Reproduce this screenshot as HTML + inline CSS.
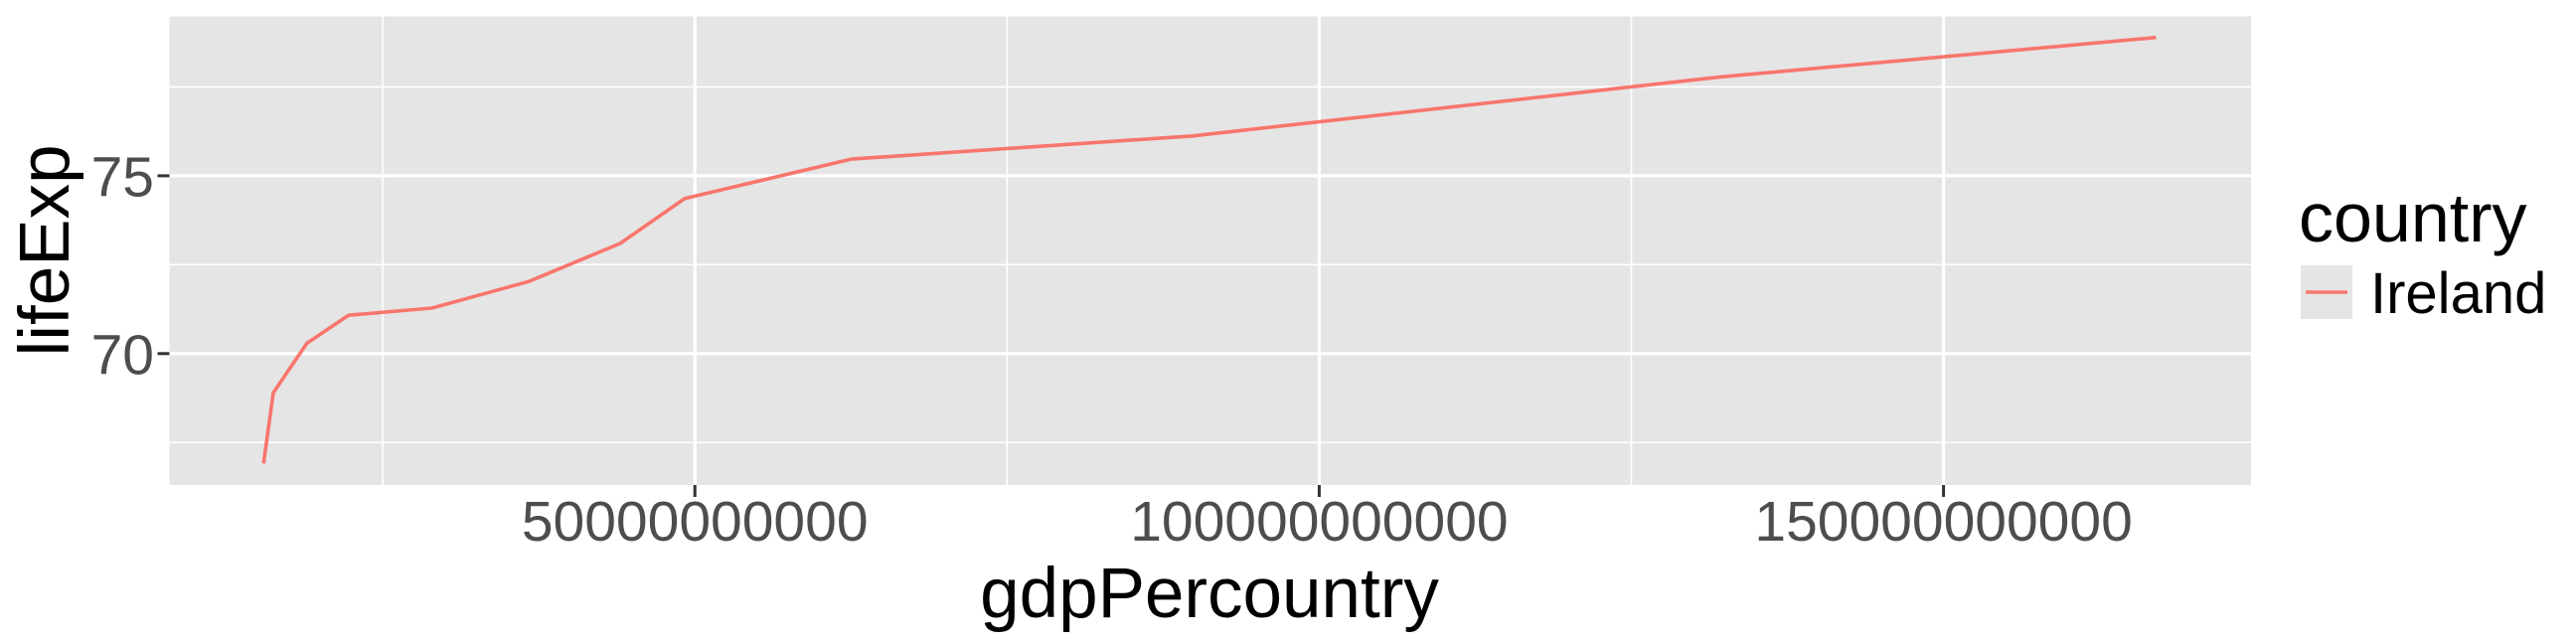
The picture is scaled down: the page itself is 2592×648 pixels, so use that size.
<!DOCTYPE html>
<html><head><meta charset="utf-8"><style>
html,body{margin:0;padding:0;background:#fff;}
svg{display:block;font-family:"Liberation Sans",Arial,sans-serif;}
</style></head><body>
<svg id="chart" width="2592" height="648" viewBox="0 0 2592 648" xmlns="http://www.w3.org/2000/svg">
<rect x="170.5" y="16.5" width="2094.5" height="471.5" fill="#e5e5e5"/>
<g id="grid"></g>
<g id="series"></g>
<g id="axes"></g>
<text x="1217" y="621" font-size="71" text-anchor="middle" fill="#000">gdpPercountry</text>
<text transform="translate(69,252) rotate(-90)" font-size="71" text-anchor="middle" fill="#000">lifeExp</text>
<g>
<text x="2313" y="243" font-size="70" fill="#000">country</text>
<rect x="2315" y="267" width="52" height="54" fill="#e5e5e5"/>
<line x1="2320" y1="294" x2="2362" y2="294" stroke="#F8766D" stroke-width="3.5"/>
<text x="2385" y="315" font-size="58" fill="#000">Ireland</text>
</g>
</svg>
<script>
const gdpValues = [1.546e10, 1.624e10, 1.893e10, 2.226e10, 2.894e10, 3.671e10, 4.402e10, 4.918e10, 6.252e10, 8.985e10, 1.3213e11, 1.6702e11];
const lifeExpValues = [66.91, 68.90, 70.29, 71.08, 71.28, 72.03, 73.10, 74.36, 75.47, 76.12, 77.78, 78.89];
const xMajorTicks = [5e10, 1e11, 1.5e11];
const xTickLabels = ["50000000000", "100000000000", "150000000000"];
const xMinorTicks = [2.5e10, 7.5e10, 1.25e11];
const yMajorTicks = [70, 75];
const yTickLabels = ["70", "75"];
const yMinorTicks = [67.5, 72.5, 77.5];

const NS = "http://www.w3.org/2000/svg";
const PL = 170.5, PR = 2265, PT = 16.5, PB = 488;
function xs(v){ return 699.2 + (v - 5e10) / 5e10 * 628.2; }
function ys(v){ return 355.8 - (v - 70) * 35.78; }
function mk(tag, attrs, parent){ const e = document.createElementNS(NS, tag); for (const k in attrs) e.setAttribute(k, attrs[k]); parent.appendChild(e); return e; }

const grid = document.getElementById('grid');
yMinorTicks.forEach(v => {
  const l = mk('line', {x1: PL, x2: PR, y1: ys(v), y2: ys(v), stroke: '#fff', 'stroke-width': 1.6}, grid);
  
  
});
xMinorTicks.forEach(v => {
  const l = mk('line', {x1: xs(v), x2: xs(v), y1: PT, y2: PB, stroke: '#fff', 'stroke-width': 1.6}, grid);
  
  
});
yMajorTicks.forEach(v => {
  const l = mk('line', {x1: PL, x2: PR, y1: ys(v), y2: ys(v), stroke: '#fff', 'stroke-width': 3.2}, grid);
  
  
});
xMajorTicks.forEach(v => {
  const l = mk('line', {x1: xs(v), x2: xs(v), y1: PT, y2: PB, stroke: '#fff', 'stroke-width': 3.2}, grid);
  
  
});

const series = document.getElementById('series');
const pts = gdpValues.map((g, i) => xs(g).toFixed(1) + ',' + ys(lifeExpValues[i]).toFixed(1)).join(' ');
const line = mk('polyline', {points: pts, fill: 'none', stroke: '#F8766D', 'stroke-width': 3.6, 'stroke-linejoin': 'round'}, series);



const axes = document.getElementById('axes');
xMajorTicks.forEach((v, i) => {
  const t = mk('line', {x1: xs(v), x2: xs(v), y1: PB, y2: PB + 12, stroke: '#333', 'stroke-width': 3}, axes);
  
  
  const tx = mk('text', {x: xs(v), y: 544, 'font-size': 57, 'text-anchor': 'middle', fill: '#4d4d4d'}, axes);
  tx.textContent = xTickLabels[i];
  
  
});
yMajorTicks.forEach((v, i) => {
  const t = mk('line', {x1: PL - 12, x2: PL, y1: ys(v), y2: ys(v), stroke: '#333', 'stroke-width': 3}, axes);
  
  
  const tx = mk('text', {x: 155, y: ys(v) + 20.5, 'font-size': 57, 'text-anchor': 'end', fill: '#4d4d4d'}, axes);
  tx.textContent = yTickLabels[i];
  
  
});
</script>
</body></html>
